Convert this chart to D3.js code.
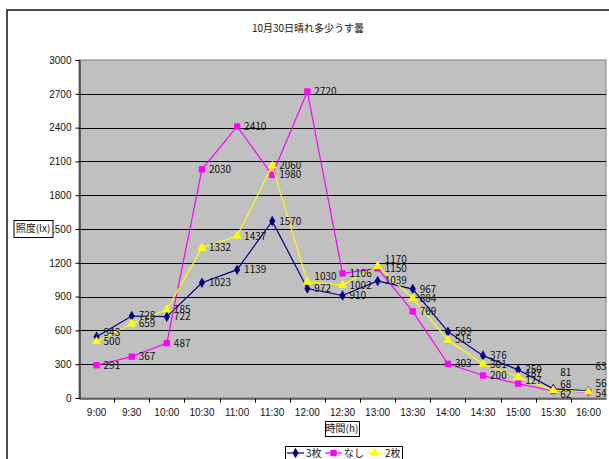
<!DOCTYPE html>
<html>
<head>
<meta charset="utf-8">
<script src="https://cdn.jsdelivr.net/npm/d3@7"></script>
<style>
  html, body { margin: 0; padding: 0; background: #fff; }
  svg { display: block; }
  text { font-family: "Liberation Sans Narrow", "Arial Narrow", "Noto Sans CJK JP", sans-serif; fill: #111; }
  .jp { font-family: "Noto Sans CJK JP", sans-serif; }
</style>
</head>
<body>
<svg id="chart" width="609" height="459"></svg>
<script>
// Illuminance readings, 30 October
const times = ["9:00","9:30","10:00","10:30","11:00","11:30","12:00","12:30","13:00","13:30","14:00","14:30","15:00","15:30","16:00"];
const sheets3 = [543, 728, 722, 1023, 1139, 1570, 972, 910, 1039, 967, 589, 376, 250, 81, 63];
const sheetsNone = [291, 367, 487, 2030, 2410, 1980, 2720, 1106, 1150, 769, 303, 200, 127, 62, 54];
const sheets2 = [500, 659, 785, 1332, 1437, 2060, 1030, 1002, 1170, 884, 515, 301, 187, 68, 56];
const yTicks = [0, 300, 600, 900, 1200, 1500, 1800, 2100, 2400, 2700, 3000];

const series = [
  { name: "3枚", values: sheets3, color: "#000080", marker: "diamond" },
  { name: "なし", values: sheetsNone, color: "#FF00FF", marker: "square" },
  { name: "2枚", values: sheets2, color: "#FFFF00", marker: "triangle" }
];

// vertical nudges for crowded value labels: [series index, point index, dy]
const labelNudge = [
  [0, 0, -4], [2, 8, -7], [2, 6, -5], [2, 12, -3], [1, 12, -3],
  [0, 13, -16], [2, 13, -6], [1, 13, 3],
  [0, 14, -24], [2, 14, -8], [1, 14, 2]
];

const svg = d3.select("#chart");
const plot = { left: 79, right: 606, top: 60, bottom: 398 };

const x = d3.scaleBand().domain(times).range([plot.left, plot.right]).padding(0);
const y = d3.scaleLinear().domain([0, 3000]).range([plot.bottom, plot.top]);

// outer chart frame
svg.append("rect")
  .attr("x", 7).attr("y", 10).attr("width", 640).attr("height", 480)
  .attr("fill", "none").attr("stroke", "#222").attr("stroke-width", 1.6);

// title
svg.append("text").attr("class", "jp")
  .attr("x", 308).attr("y", 32)
  .attr("text-anchor", "middle").attr("font-size", 10)
  .text("10月30日晴れ多少うす曇");

// plot area
svg.append("rect")
  .attr("x", plot.left).attr("y", plot.top)
  .attr("width", plot.right - plot.left).attr("height", plot.bottom - plot.top)
  .attr("fill", "#C0C0C0").attr("stroke", "#808080").attr("stroke-width", 1);

// horizontal gridlines
svg.append("g")
  .selectAll("line")
  .data(yTicks.filter(d => d > 0 && d < 3000))
  .join("line")
  .attr("x1", plot.left).attr("x2", plot.right)
  .attr("y1", d => Math.round(y(d)) + 0.5).attr("y2", d => Math.round(y(d)) + 0.5)
  .attr("stroke", "#000").attr("stroke-width", 1);

// y axis
const yAxis = svg.append("g")
  .attr("transform", `translate(${plot.left + 0.5},0)`)
  .call(d3.axisLeft(y).tickValues(yTicks).tickSize(4).tickPadding(4).tickFormat(d3.format("d")));
yAxis.select(".domain").attr("stroke", "#000");
yAxis.selectAll(".tick line").attr("stroke", "#000");
yAxis.selectAll("text").attr("font-size", 10).attr("fill", "#111")
  .style("font-family", "'Liberation Sans Narrow', 'Arial Narrow', sans-serif");

// x axis with ticks between categories
const xAxis = svg.append("g")
  .attr("transform", `translate(0,${plot.bottom + 0.5})`)
  .call(d3.axisBottom(x).tickSize(0).tickPadding(10));
xAxis.select(".domain").attr("stroke", "#000");
xAxis.selectAll("text").attr("font-size", 10).attr("fill", "#111")
  .style("font-family", "'Liberation Sans Narrow', 'Arial Narrow', sans-serif");
xAxis.selectAll(".boundary")
  .data(times.slice(1))
  .join("line")
  .attr("x1", d => Math.round(x(d)) + 0.5).attr("x2", d => Math.round(x(d)) + 0.5)
  .attr("y1", 0).attr("y2", 4)
  .attr("stroke", "#000");

// axis titles in boxes
function boxedLabel(cx, cy, w, h, txt) {
  svg.append("rect")
    .attr("x", cx - w / 2 + 0.5).attr("y", cy - h / 2 + 0.5)
    .attr("width", w).attr("height", h)
    .attr("fill", "#fff").attr("stroke", "#000").attr("stroke-width", 1);
  svg.append("text").attr("class", "jp")
    .attr("x", cx).attr("y", cy + 3.5)
    .attr("text-anchor", "middle").attr("font-size", 10)
    .text(txt);
}
boxedLabel(33, 228.5, 39, 17, "照度(lx)");
boxedLabel(342, 428.5, 34, 15, "時間(h)");

// marker shapes
function markerPath(type) {
  if (type === "diamond") return d3.symbol(d3.symbolDiamond, 32)();
  if (type === "square") return d3.symbol(d3.symbolSquare, 40)();
  return d3.symbol(d3.symbolTriangle, 38)();
}

const cx = d => x(d) + x.bandwidth() / 2;
const line = d3.line().x(d => cx(d.t)).y(d => y(d.v));

const seriesG = svg.append("g");
series.forEach((s, si) => {
  const pts = times.map((t, i) => ({ t, v: s.values[i], i }));
  seriesG.append("path")
    .datum(pts)
    .attr("d", line)
    .attr("fill", "none").attr("stroke", s.color).attr("stroke-width", 1.2);
  seriesG.append("g")
    .selectAll("path")
    .data(pts)
    .join("path")
    .attr("transform", d => `translate(${cx(d.t)},${y(d.v)})`)
    .attr("d", markerPath(s.marker))
    .attr("fill", s.color);
});

// value labels to the right of each point
const labelG = svg.append("g");
series.forEach((s, si) => {
  labelG.selectAll(null)
    .data(times.map((t, i) => ({ t, v: s.values[i], i })))
    .join("text")
    .attr("x", d => cx(d.t) + 7)
    .attr("y", d => {
      const n = labelNudge.find(k => k[0] === si && k[1] === d.i);
      return y(d.v) + 3.5 + (n ? n[2] : 0);
    })
    .attr("font-size", 10)
    .attr("fill", "#222")
    .text(d => d.v);
});

// legend
const legend = svg.append("g");
legend.append("rect")
  .attr("x", 285.5).attr("y", 446.5).attr("width", 117).attr("height", 20)
  .attr("fill", "#fff").attr("stroke", "#000").attr("stroke-width", 1);
const legendX = [287, 325, 366];
series.forEach((s, i) => {
  const lx = legendX[i];
  const ly = 453;
  legend.append("line")
    .attr("x1", lx).attr("x2", lx + 17).attr("y1", ly).attr("y2", ly)
    .attr("stroke", s.color).attr("stroke-width", 1.2);
  legend.append("path")
    .attr("transform", `translate(${lx + 8.5},${ly})`)
    .attr("d", markerPath(s.marker))
    .attr("fill", s.color);
  legend.append("text").attr("class", "jp")
    .attr("x", lx + 19).attr("y", ly + 4)
    .attr("font-size", 10)
    .text(s.name);
});
</script>
</body>
</html>
